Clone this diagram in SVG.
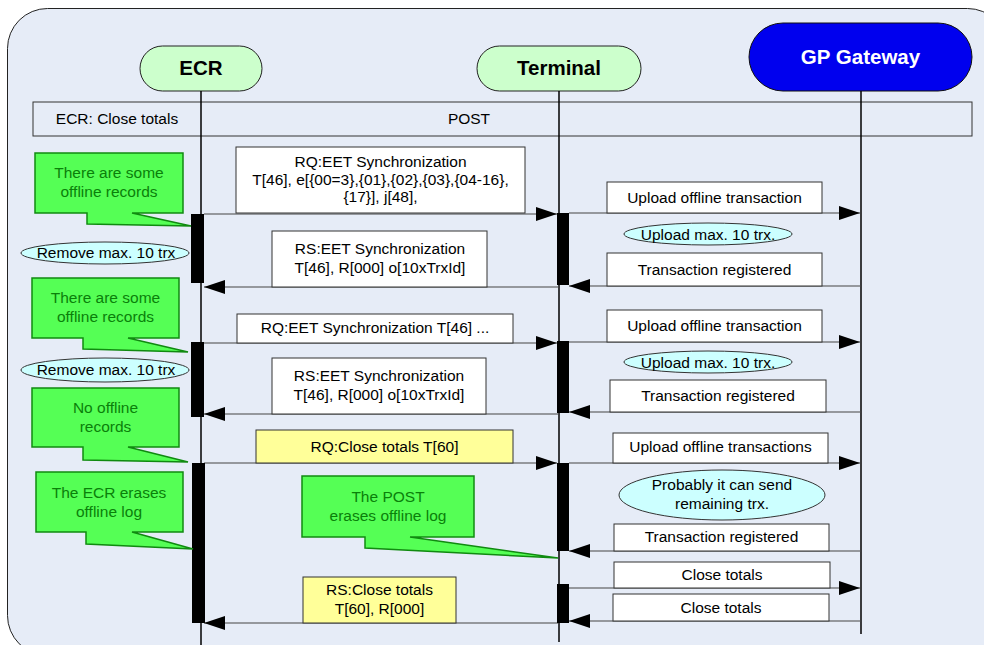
<svg xmlns="http://www.w3.org/2000/svg" width="984" height="645" viewBox="0 0 984 645">
<defs>
<marker id="ah" markerWidth="21" markerHeight="14" refX="21" refY="7" orient="auto" markerUnits="userSpaceOnUse"><path d="M0,0 L21,7 L0,14 Z" fill="#000"/></marker>
<style>
text{font-family:"Liberation Sans",Arial,sans-serif;font-size:15.5px;fill:#000;text-anchor:middle}
.title{font-weight:bold;font-size:20.5px}
.white{fill:#fff}
.g{fill:#0a800a}
.pill{fill:#ccffcc;stroke:#222;stroke-width:1}
.life{stroke:#000;stroke-width:1.5;fill:none}
.box{fill:#fff;stroke:#333;stroke-width:1}
.ybox{fill:#ffff99;stroke:#333;stroke-width:1}
.ell{fill:#ccffff;stroke:#333;stroke-width:1}
.call{fill:#55ff55;stroke:#108a10;stroke-width:1.5}
.bar{fill:#000}
.msg{stroke:#444;stroke-width:1.2;fill:none;marker-end:url(#ah)}
</style>
</defs>
<rect x="7.5" y="8.5" width="1000" height="647" rx="40" ry="40" fill="#e6ecf7" stroke="#222" stroke-width="1"/>

<g id="header">
<rect x="33" y="102" width="939" height="34" fill="#e6ecf7" stroke="#333" stroke-width="1"/>
<text x="117" y="124">ECR: Close totals</text>
<text x="469" y="124">POST</text>
</g>

<g id="node-ecr">
<rect class="pill" x="140" y="46" width="122" height="45" rx="22.5"/>
<text class="title" x="201" y="75">ECR</text>
<line class="life" x1="201" y1="91" x2="201" y2="645"/>
</g>
<g id="node-terminal">
<rect class="pill" x="477" y="46" width="164" height="45" rx="22.5"/>
<text class="title" x="559" y="75">Terminal</text>
<line class="life" x1="559" y1="91" x2="559" y2="642"/>
</g>
<g id="node-gateway">
<rect x="749" y="23" width="223" height="68" rx="34" fill="#0000ee" stroke="#111" stroke-width="1"/>
<text class="title white" x="860.5" y="64">GP Gateway</text>
<line class="life" x1="861" y1="91" x2="861" y2="634"/>
</g>

<g id="connectors">
<line class="msg" x1="204" y1="214" x2="557" y2="214"/>
<line class="msg" x1="559" y1="287" x2="204" y2="287"/>
<line class="msg" x1="204" y1="343" x2="557" y2="343"/>
<line class="msg" x1="559" y1="414" x2="204" y2="414"/>
<line class="msg" x1="204" y1="463" x2="557" y2="463"/>
<line class="msg" x1="559" y1="623" x2="204" y2="623"/>
<line class="msg" x1="569" y1="213" x2="860" y2="213"/>
<line class="msg" x1="861" y1="286" x2="569" y2="286"/>
<line class="msg" x1="569" y1="342" x2="860" y2="342"/>
<line class="msg" x1="861" y1="412" x2="569" y2="412"/>
<line class="msg" x1="569" y1="463" x2="860" y2="463"/>
<line class="msg" x1="861" y1="551" x2="569" y2="551"/>
<line class="msg" x1="569" y1="588" x2="860" y2="588"/>
<line class="msg" x1="861" y1="621" x2="569" y2="621"/>
</g>

<g id="activations">
<rect class="bar" x="191" y="214" width="13" height="69"/>
<rect class="bar" x="191" y="342" width="13" height="75"/>
<rect class="bar" x="192" y="463" width="13" height="160"/>
<rect class="bar" x="557" y="213" width="12" height="72"/>
<rect class="bar" x="557" y="341" width="12" height="72"/>
<rect class="bar" x="557" y="463" width="12" height="88"/>
<rect class="bar" x="557" y="584" width="12" height="39"/>
</g>

<g id="msg-rq-sync1">
<rect class="box" x="236" y="147" width="289" height="66"/>
<text x="380.5" y="167">RQ:EET Synchronization</text>
<text x="380.5" y="184.5">T[46], e[{00=3},{01},{02},{03},{04-16},</text>
<text x="380.5" y="202">{17}], j[48],</text>
</g>
<g id="msg-rs-sync1">
<rect class="box" x="272" y="231" width="215" height="56"/>
<text x="380" y="254">RS:EET Synchronization</text>
<text x="380" y="273">T[46], R[000] o[10xTrxId]</text>
</g>
<g id="msg-rq-sync2">
<rect class="box" x="237" y="314" width="276" height="29"/>
<text x="375" y="333">RQ:EET Synchronization T[46] ...</text>
</g>
<g id="msg-rs-sync2">
<rect class="box" x="272" y="358" width="214" height="56"/>
<text x="379" y="381">RS:EET Synchronization</text>
<text x="379" y="400">T[46], R[000] o[10xTrxId]</text>
</g>
<g id="msg-rq-close">
<rect class="ybox" x="256" y="430" width="257" height="33"/>
<text x="384.5" y="452">RQ:Close totals T[60]</text>
</g>
<g id="msg-rs-close">
<rect class="ybox" x="303" y="577" width="153" height="46"/>
<text x="379.5" y="595">RS:Close totals</text>
<text x="379.5" y="614">T[60], R[000]</text>
</g>

<g id="msg-upload1">
<rect class="box" x="607" y="182" width="215" height="31"/>
<text x="714.5" y="203">Upload offline transaction</text>
</g>
<g id="note-upload1">
<ellipse class="ell" cx="708" cy="234" rx="84" ry="11"/>
<text x="708" y="240">Upload max. 10 trx.</text>
</g>
<g id="msg-registered1">
<rect class="box" x="607" y="253" width="215" height="33"/>
<text x="714.5" y="275">Transaction registered</text>
</g>
<g id="msg-upload2">
<rect class="box" x="607" y="310" width="215" height="32"/>
<text x="714.5" y="331">Upload offline transaction</text>
</g>
<g id="note-upload2">
<ellipse class="ell" cx="708" cy="362" rx="84" ry="11"/>
<text x="708" y="368">Upload max. 10 trx.</text>
</g>
<g id="msg-registered2">
<rect class="box" x="610" y="380" width="216" height="32"/>
<text x="718" y="401">Transaction registered</text>
</g>
<g id="msg-upload3">
<rect class="box" x="613" y="433" width="215" height="30"/>
<text x="720.5" y="452">Upload offline transactions</text>
</g>
<g id="note-probably">
<ellipse class="ell" cx="722" cy="495" rx="103" ry="25"/>
<text x="722" y="490">Probably it can send</text>
<text x="722" y="509">remaining trx.</text>
</g>
<g id="msg-registered3">
<rect class="box" x="614" y="524" width="215" height="27"/>
<text x="721.5" y="542">Transaction registered</text>
</g>
<g id="msg-close-gw">
<rect class="box" x="614" y="562" width="216" height="26"/>
<text x="722" y="580">Close totals</text>
</g>
<g id="msg-close-gw-rs">
<rect class="box" x="613" y="594" width="216" height="27"/>
<text x="721" y="613">Close totals</text>
</g>

<g id="note-remove1">
<ellipse class="ell" cx="105" cy="253" rx="84" ry="11"/>
<text x="106" y="258">Remove max. 10 trx</text>
</g>
<g id="note-remove2">
<ellipse class="ell" cx="105" cy="370" rx="84" ry="12"/>
<text x="106" y="375">Remove max. 10 trx</text>
</g>

<g id="callout-some1">
<path class="call" d="M35,153 H183 V213 H132 L191,226 L87,224 V213 H35 Z"/>
<text class="g" x="109" y="178">There are some</text>
<text class="g" x="109" y="197">offline records</text>
</g>
<g id="callout-some2">
<path class="call" d="M32,278 H179 V338 H128 L188,352 L83,349 V338 H32 Z"/>
<text class="g" x="105.5" y="303">There are some</text>
<text class="g" x="105.5" y="322">offline records</text>
</g>
<g id="callout-none">
<path class="call" d="M32,388 H179 V447 H128 L188,462 L83,460 V447 H32 Z"/>
<text class="g" x="105.5" y="413">No offline</text>
<text class="g" x="105.5" y="432">records</text>
</g>
<g id="callout-ecr-erase">
<path class="call" d="M36,472 H183 V532 H132 L193,549 L86,544 V532 H36 Z"/>
<text class="g" x="109" y="498">The ECR erases</text>
<text class="g" x="109" y="517">offline log</text>
</g>
<g id="callout-post-erase">
<path class="call" d="M302,476 H474 V537 H410 L558,558 L365,548 V537 H302 Z"/>
<text class="g" x="388" y="502">The POST</text>
<text class="g" x="388" y="521">erases offline log</text>
</g>
</svg>
